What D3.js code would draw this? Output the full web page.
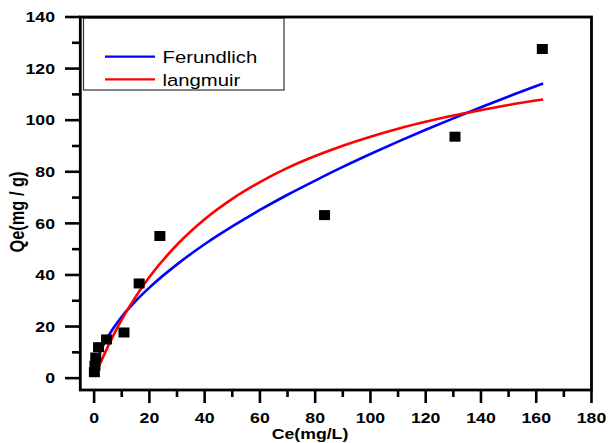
<!DOCTYPE html>
<html>
<head>
<meta charset="utf-8">
<script src="https://cdn.jsdelivr.net/npm/d3@7"></script>
<style>
  body { margin: 0; background: #fff; }
  text { font-family: "Liberation Sans", Arial, sans-serif; }
</style>
</head>
<body>
<svg id="chart"></svg>
<script>
// measured points
var ceData = [0.1, 0.3, 0.6, 1.6, 4.5, 10.8, 16.3, 23.8, 83.4, 130.6, 162.2];
var qeData = [2.3, 4.8, 8, 12, 15, 17.7, 36.7, 55.1, 63.2, 93.6, 127.6];

// fitted curves
var fitCe = [0.2, 1, 2, 4, 7, 10, 15, 20, 30, 40, 50, 60, 70, 80, 90, 100, 110, 120, 130, 140, 150, 162.5];
var freundQe = [2.6, 6.5, 9.6, 14.2, 19.4, 23.8, 29.9, 35.1, 44.1, 51.9, 58.8, 65.2, 71.1, 76.6, 81.9, 86.9, 91.7, 96.3, 100.7, 105.0, 109.2, 114.2];
var langQe = [0.5, 2.65, 5.2, 10.0, 16.7, 22.7, 31.5, 39.2, 51.7, 61.6, 69.5, 76.0, 81.5, 86.1, 90.1, 93.6, 96.7, 99.4, 101.8, 103.9, 105.9, 108.0];

var xTicks = [0, 20, 40, 60, 80, 100, 120, 140, 160, 180];
var xMinor = [10, 30, 50, 70, 90, 110, 130, 150, 170];
var yTicks = [0, 20, 40, 60, 80, 100, 120, 140];
var yMinor = [10, 30, 50, 70, 90, 110, 130];

var seriesNames = ["Ferundlich", "langmuir"];
var seriesColors = ["#0000ff", "#ff0000"];

var width = 608, height = 443;
var stretch = 1.18; // the reference text is a bit wide

var svg = d3.select('#chart').attr('width', width).attr('height', height);

var x = d3.scaleLinear().domain([-5, 180]).range([80.3, 591.5]);
var y = d3.scaleLinear().domain([-4.6, 140]).range([390, 17]);

function label(str, px, py, size, weight, anchor) {
    return svg.append('text')
        .attr('transform', 'translate(' + px + ',' + py + ') scale(' + stretch + ',1)')
        .attr('text-anchor', anchor)
        .attr('font-size', size)
        .attr('font-weight', weight)
        .attr('fill', '#000')
        .text(str);
}

// ticks
var tickG = svg.append('g').attr('stroke', '#000').attr('stroke-width', 2.6);
tickG.selectAll('.xmaj').data(xTicks).enter().append('line')
    .attr('x1', d => x(d)).attr('x2', d => x(d))
    .attr('y1', 390).attr('y2', 403);
tickG.selectAll('.xmin').data(xMinor).enter().append('line')
    .attr('x1', d => x(d)).attr('x2', d => x(d))
    .attr('y1', 390).attr('y2', 397);
tickG.selectAll('.ymaj').data(yTicks).enter().append('line')
    .attr('y1', d => y(d)).attr('y2', d => y(d))
    .attr('x1', 65).attr('x2', 80);
tickG.selectAll('.ymin').data(yMinor).enter().append('line')
    .attr('y1', d => y(d)).attr('y2', d => y(d))
    .attr('x1', 72).attr('x2', 80);

// tick labels
xTicks.forEach(function (d) {
    label(d, x(d), 422.5, 15, 'bold', 'middle');
});
yTicks.forEach(function (d) {
    label(d, 55, y(d) + 5.3, 15, 'bold', 'end');
});

// axis titles
label('Ce(mg/L)', 310, 439, 15, 'bold', 'middle');
svg.append('text')
    .attr('transform', 'translate(23.5,212) scale(' + stretch + ',1) rotate(-90)')
    .attr('text-anchor', 'middle')
    .attr('font-size', 16.4)
    .attr('font-weight', 'bold')
    .text('Qe(mg / g)');

// legend box
svg.append('rect')
    .attr('x', 83.5).attr('y', 18).attr('width', 200.5).attr('height', 72)
    .attr('fill', 'none').attr('stroke', '#333').attr('stroke-width', 1.2);

// curves
var line = d3.line()
    .x(d => x(d[0]))
    .y(d => y(d[1]))
    .curve(d3.curveMonotoneX);

[freundQe, langQe].forEach(function (vals, i) {
    svg.append('path')
        .datum(fitCe.map((c, k) => [c, vals[k]]))
        .attr('fill', 'none')
        .attr('stroke', seriesColors[i])
        .attr('stroke-width', 2.6)
        .attr('d', line);
});

// points
svg.append('g').selectAll('rect')
    .data(ceData.map((c, k) => [c, qeData[k]]))
    .enter()
    .append('rect')
    .attr('x', d => x(d[0]) - 5.5)
    .attr('y', d => y(d[1]) - 5)
    .attr('width', 11)
    .attr('height', 10)
    .attr('fill', '#000');

// legend entries
seriesNames.forEach(function (name, i) {
    var ly = 56.7 + i * 22.6;
    svg.append('line')
        .attr('x1', 105).attr('x2', 155)
        .attr('y1', ly).attr('y2', ly)
        .attr('stroke', seriesColors[i])
        .attr('stroke-width', 2.2);
    label(name, 162.5, ly + 6.6, 17.2, 'normal', 'start');
});

// frame
svg.append('rect')
    .attr('x', 80.3).attr('y', 17).attr('width', 511.2).attr('height', 373)
    .attr('fill', 'none').attr('stroke', '#000').attr('stroke-width', 2.8);
</script>
</body>
</html>
